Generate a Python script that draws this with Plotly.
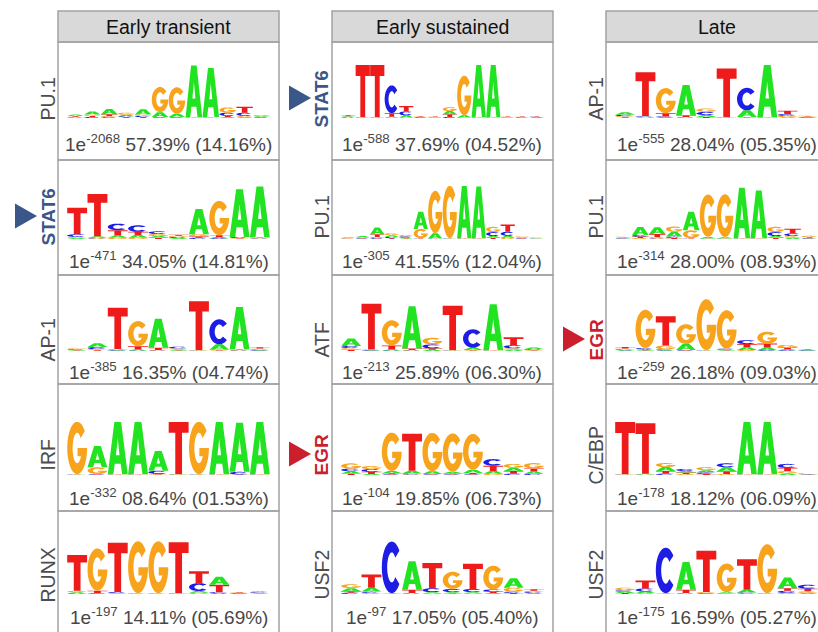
import math
import plotly.graph_objects as go

W, H = 818, 632

# ---------------------------------------------------------------- data
COLUMN_TITLES = ["Early transient", "Early sustained", "Late"]

FACTORS = [
    ["PU.1", "STAT6", "AP-1", "IRF", "RUNX"],
    ["STAT6", "PU.1", "ATF", "EGR", "USF2"],
    ["AP-1", "PU.1", "EGR", "C/EBP", "USF2"],
]

LOG10_P = [
    [-2068, -471, -385, -332, -197],
    [-588, -305, -213, -104, -97],
    [-555, -314, -259, -178, -175],
]
TARGET_PCT = [
    [57.39, 34.05, 16.35, 8.64, 14.11],
    [37.69, 41.55, 25.89, 19.85, 17.05],
    [28.04, 28.00, 26.18, 18.12, 16.59],
]
BACKGROUND_PCT = [
    [14.16, 14.81, 4.74, 1.53, 5.69],
    [4.52, 12.04, 6.30, 6.73, 5.40],
    [5.35, 8.93, 9.03, 6.09, 5.27],
]

HIGHLIGHT = {"STAT6": "#3b5689", "EGR": "#cc1f2e"}

# motif information content per position, bits for (A, C, G, T)
PU1_EARLY_TRANSIENT = [
    (0.05, 0.02, 0.03, 0.03), (0.12, 0.04, 0.05, 0.04), (0.20, 0.03, 0.04, 0.07),
    (0.05, 0.04, 0.08, 0.03), (0.20, 0.05, 0.05, 0.03), (0.18, 0.02, 0.95, 0.02),
    (0.12, 0.02, 1.00, 0.02), (1.95, 0.01, 0.01, 0.01), (1.85, 0.01, 0.02, 0.01),
    (0.04, 0.12, 0.20, 0.04), (0.04, 0.12, 0.04, 0.22), (0.03, 0.02, 0.04, 0.02),
]
STAT6_EARLY_TRANSIENT = [
    (0.04, 0.10, 0.04, 1.00), (0.05, 0.02, 0.03, 1.60), (0.08, 0.25, 0.05, 0.20),
    (0.10, 0.25, 0.05, 0.12), (0.06, 0.10, 0.08, 0.05), (0.04, 0.04, 0.04, 0.04),
    (0.95, 0.05, 0.08, 0.05), (0.05, 0.03, 1.30, 0.06), (1.80, 0.04, 0.02, 0.02),
    (1.92, 0.02, 0.02, 0.02),
]
AP1_EARLY_TRANSIENT = [
    (0.03, 0.03, 0.03, 0.02), (0.14, 0.08, 0.04, 0.03), (0.02, 0.03, 0.03, 1.55),
    (0.04, 0.02, 0.95, 0.12), (1.10, 0.02, 0.02, 0.08), (0.04, 0.06, 0.04, 0.02),
    (0.01, 0.01, 0.01, 1.85), (0.20, 0.95, 0.02, 0.03), (1.60, 0.02, 0.02, 0.02),
    (0.02, 0.03, 0.04, 0.05),
]
IRF_EARLY_TRANSIENT = [
    (0.01, 0.01, 1.98, 0.01), (0.80, 0.02, 0.25, 0.02), (1.98, 0.01, 0.01, 0.01),
    (1.98, 0.01, 0.01, 0.01), (0.75, 0.12, 0.02, 0.02), (0.01, 0.01, 0.01, 1.98),
    (0.01, 0.01, 1.98, 0.01), (1.98, 0.01, 0.01, 0.01), (1.85, 0.10, 0.01, 0.01),
    (1.98, 0.01, 0.01, 0.01),
]
RUNX_EARLY_TRANSIENT = [
    (0.05, 0.02, 0.05, 1.35), (0.02, 0.02, 1.60, 0.08), (0.02, 0.04, 0.02, 1.85),
    (0.01, 0.01, 1.96, 0.01), (0.01, 0.01, 1.96, 0.01), (0.01, 0.01, 0.01, 1.92),
    (0.06, 0.30, 0.05, 0.45), (0.30, 0.05, 0.02, 0.28), (0.02, 0.02, 0.02, 0.02),
    (0.02, 0.04, 0.02, 0.01),
]
STAT6_EARLY_SUSTAINED = [
    (0.03, 0.02, 0.02, 0.03), (0.01, 0.01, 0.01, 1.97), (0.01, 0.01, 0.01, 1.97),
    (0.03, 1.05, 0.02, 0.13), (0.08, 0.15, 0.02, 0.20), (0.02, 0.02, 0.02, 0.02),
    (0.02, 0.01, 0.02, 0.02), (0.12, 0.04, 0.15, 0.10), (0.08, 0.01, 1.50, 0.01),
    (1.97, 0.01, 0.01, 0.01), (1.97, 0.01, 0.01, 0.01), (0.02, 0.01, 0.02, 0.02),
    (0.01, 0.02, 0.02, 0.02), (0.02, 0.02, 0.01, 0.02),
]
PU1_EARLY_SUSTAINED = [
    (0.03, 0.01, 0.02, 0.01), (0.04, 0.02, 0.03, 0.02), (0.25, 0.03, 0.05, 0.10),
    (0.06, 0.05, 0.08, 0.03), (0.03, 0.05, 0.05, 0.02), (0.65, 0.01, 0.35, 0.02),
    (0.20, 0.01, 1.60, 0.01), (0.01, 0.01, 1.98, 0.01), (1.98, 0.01, 0.01, 0.01),
    (1.95, 0.01, 0.01, 0.01), (0.06, 0.15, 0.20, 0.05), (0.07, 0.15, 0.05, 0.28),
    (0.03, 0.02, 0.03, 0.02), (0.02, 0.01, 0.02, 0.01),
]
ATF_EARLY_SUSTAINED = [
    (0.28, 0.08, 0.06, 0.05), (0.02, 0.02, 0.02, 1.72), (0.04, 0.02, 0.95, 0.15),
    (1.60, 0.02, 0.02, 0.05), (0.05, 0.15, 0.25, 0.05), (0.01, 0.01, 0.01, 1.68),
    (0.08, 0.70, 0.02, 0.02), (1.73, 0.01, 0.01, 0.01), (0.05, 0.12, 0.05, 0.30),
    (0.06, 0.03, 0.02, 0.02),
]
EGR_EARLY_SUSTAINED = [
    (0.08, 0.10, 0.20, 0.06), (0.04, 0.10, 0.12, 0.08), (0.08, 0.02, 1.45, 0.05),
    (0.10, 0.04, 0.02, 1.40), (0.10, 0.02, 1.45, 0.02), (0.06, 0.02, 1.45, 0.04),
    (0.12, 0.02, 1.35, 0.06), (0.10, 0.25, 0.05, 0.20), (0.12, 0.05, 0.15, 0.10),
    (0.08, 0.05, 0.20, 0.12),
]
USF2_EARLY_SUSTAINED = [
    (0.12, 0.05, 0.15, 0.05), (0.15, 0.05, 0.04, 0.50), (0.01, 1.95, 0.01, 0.01),
    (1.08, 0.02, 0.02, 0.12), (0.05, 0.15, 0.02, 0.95), (0.05, 0.12, 0.65, 0.02),
    (0.05, 0.12, 0.02, 0.95), (0.04, 0.08, 0.90, 0.05), (0.35, 0.05, 0.15, 0.04),
    (0.03, 0.04, 0.05, 0.06),
]
AP1_LATE = [
    (0.10, 0.05, 0.04, 0.03), (0.03, 0.03, 0.02, 1.65), (0.02, 0.04, 0.95, 0.12),
    (1.15, 0.02, 0.02, 0.06), (0.07, 0.12, 0.13, 0.04), (0.01, 0.01, 0.01, 1.84),
    (0.25, 0.85, 0.02, 0.02), (1.97, 0.01, 0.01, 0.01), (0.03, 0.07, 0.05, 0.12),
    (0.02, 0.02, 0.03, 0.02),
]
PU1_LATE = [
    (0.03, 0.02, 0.03, 0.01), (0.30, 0.06, 0.04, 0.05), (0.25, 0.02, 0.05, 0.12),
    (0.18, 0.05, 0.20, 0.04), (0.70, 0.01, 0.30, 0.02), (0.06, 0.01, 1.60, 0.01),
    (0.05, 0.01, 1.62, 0.01), (1.90, 0.01, 0.01, 0.01), (1.80, 0.01, 0.01, 0.01),
    (0.06, 0.15, 0.20, 0.05), (0.05, 0.10, 0.06, 0.18), (0.01, 0.02, 0.05, 0.04),
]
EGR_LATE = [
    (0.03, 0.03, 0.03, 0.06), (0.04, 0.05, 1.45, 0.02), (0.02, 0.04, 0.15, 1.10),
    (0.22, 0.02, 0.75, 0.02), (0.01, 0.01, 1.93, 0.01), (0.03, 0.04, 1.45, 0.02),
    (0.10, 0.15, 0.04, 0.12), (0.10, 0.03, 0.45, 0.15), (0.04, 0.03, 0.10, 0.06),
    (0.02, 0.02, 0.02, 0.02),
]
CEBP_LATE = [
    (0.01, 0.01, 0.01, 1.97), (0.03, 0.01, 0.01, 1.90), (0.15, 0.05, 0.15, 0.10),
    (0.06, 0.08, 0.04, 0.05), (0.08, 0.06, 0.12, 0.04), (0.15, 0.15, 0.04, 0.10),
    (1.97, 0.01, 0.01, 0.01), (1.97, 0.01, 0.01, 0.01), (0.05, 0.15, 0.10, 0.12),
    (0.01, 0.02, 0.01, 0.01),
]
USF2_LATE = [
    (0.05, 0.05, 0.10, 0.04), (0.05, 0.12, 0.04, 0.30), (0.01, 1.72, 0.01, 0.01),
    (1.05, 0.02, 0.02, 0.12), (0.02, 0.02, 0.04, 1.55), (0.05, 0.01, 1.08, 0.01),
    (0.10, 0.04, 0.02, 1.15), (0.01, 0.01, 1.85, 0.01), (0.40, 0.08, 0.04, 0.10),
    (0.04, 0.15, 0.06, 0.10),
]

MOTIFS = [
    [PU1_EARLY_TRANSIENT, STAT6_EARLY_TRANSIENT, AP1_EARLY_TRANSIENT,
     IRF_EARLY_TRANSIENT, RUNX_EARLY_TRANSIENT],
    [STAT6_EARLY_SUSTAINED, PU1_EARLY_SUSTAINED, ATF_EARLY_SUSTAINED,
     EGR_EARLY_SUSTAINED, USF2_EARLY_SUSTAINED],
    [AP1_LATE, PU1_LATE, EGR_LATE, CEBP_LATE, USF2_LATE],
]

BASES = "ACGT"
BASE_COLORS = {"A": "#22e322", "C": "#1d1de6", "G": "#f8a31c", "T": "#ef1b1b"}

# ---------------------------------------------------------------- geometry (pixels)
COL_LEFT = [58, 332, 606]
COL_WIDTH = 221
HEADER_TOP, HEADER_BOTTOM = 11, 42
ROW_EDGES = [42, 160, 275, 384, 511, 650]
BASELINE = [118, 239, 351, 475, 594]
STAT_Y = [143, 260, 371, 497, 616]
LABEL_Y = [99, 217, 340, 455, 575]
LOGO_INSET = (9, 212)      # logo extent inside a column
LOGO_HEIGHT = 53           # pixel height of 2 bits

TEXT_FONT = "Liberation Sans, Arial, Helvetica, sans-serif"


def px(x):
    return x / W


def py(y):
    return 1 - y / H


# ---------------------------------------------------------------- glyph outlines (unit box)
def arc(a0, a1, rx, ry, n=28):
    pts = []
    for i in range(n + 1):
        t = math.radians(a0 + (a1 - a0) * i / n)
        pts.append((0.5 + rx * math.cos(t), 0.5 + ry * math.sin(t)))
    return pts


GLYPHS = {
    "A": [
        [(0, 0), (0.33, 1), (0.67, 1), (1, 0), (0.72, 0), (0.65, 0.2),
         (0.35, 0.2), (0.28, 0)],
        [(0.41, 0.36), (0.59, 0.36), (0.5, 0.68)],
    ],
    "T": [
        [(0, 1), (1, 1), (1, 0.79), (0.67, 0.79), (0.67, 0), (0.33, 0),
         (0.33, 0.79), (0, 0.79)],
    ],
    "C": [arc(40, 320, 0.5, 0.5) + arc(320, 40, 0.23, 0.29)],
    "G": [arc(40, 360, 0.5, 0.5)
          + [(0.52, 0.5), (0.52, 0.34), (0.72, 0.34)]
          + arc(330, 40, 0.23, 0.29)],
}


def glyph_path(base, x0, x1, y0, y1):
    parts = []
    for contour in GLYPHS[base]:
        pts = [f"{x0 + u * (x1 - x0):.4f},{y0 + v * (y1 - y0):.4f}" for u, v in contour]
        parts.append("M" + " L".join(pts) + " Z")
    return " ".join(parts)


# ---------------------------------------------------------------- figure
fig = go.Figure()
layout = dict(
    width=W, height=H, margin=dict(l=0, r=0, t=0, b=0),
    paper_bgcolor="white", plot_bgcolor="rgba(0,0,0,0)",
    showlegend=False,
)
shapes = []
annotations = []

BORDER = "#a3a3a3"

for c, title in enumerate(COLUMN_TITLES):
    left = COL_LEFT[c]
    right = left + COL_WIDTH
    # header box
    shapes.append(dict(type="rect", xref="paper", yref="paper",
                       x0=px(left), x1=px(right), y0=py(HEADER_BOTTOM), y1=py(HEADER_TOP),
                       fillcolor="#d9d9d9", line=dict(color=BORDER, width=1.5), layer="below"))
    annotations.append(dict(text=title, xref="paper", yref="paper",
                            x=px((left + right) / 2), y=py((HEADER_TOP + HEADER_BOTTOM) / 2 + 0.5),
                            xanchor="center", yanchor="middle", showarrow=False,
                            font=dict(family=TEXT_FONT, size=19.5, color="#111111")))
    for r in range(5):
        k = c * 5 + r + 1
        shapes.append(dict(type="rect", xref="paper", yref="paper",
                           x0=px(left), x1=px(right), y0=py(ROW_EDGES[r + 1]), y1=py(ROW_EDGES[r]),
                           fillcolor="rgba(0,0,0,0)", line=dict(color=BORDER, width=1.5),
                           layer="below"))

        motif = MOTIFS[c][r]
        n = len(motif)
        lx0, lx1 = left + LOGO_INSET[0], left + LOGO_INSET[1]
        vis_x1 = min(lx1, W)
        xname = "x" if k == 1 else f"x{k}"
        yname = "y" if k == 1 else f"y{k}"
        axis_common = dict(visible=False, showgrid=False, zeroline=False, fixedrange=True)
        layout["xaxis" if k == 1 else f"xaxis{k}"] = dict(
            domain=[px(lx0), px(vis_x1)], range=[0, n * (vis_x1 - lx0) / (lx1 - lx0)],
            anchor=yname, **axis_common)
        layout["yaxis" if k == 1 else f"yaxis{k}"] = dict(
            domain=[py(BASELINE[r]), py(BASELINE[r] - LOGO_HEIGHT)], range=[0, 2],
            anchor=xname, **axis_common)
        fig.add_trace(go.Scatter(x=[], y=[], xaxis=xname, yaxis=yname, hoverinfo="skip"))

        # stacked letters: smallest at the bottom, tallest on top
        for i, heights in enumerate(motif):
            order = sorted(zip(BASES, heights), key=lambda t: t[1])
            y = 0.0
            for base, h in order:
                shapes.append(dict(type="path", xref=xname, yref=yname,
                                   path=glyph_path(base, i + 0.01, i + 0.99, y, y + h),
                                   fillcolor=BASE_COLORS[base], line=dict(width=0),
                                   layer="above"))
                y += h

        # statistics line
        stat = (f"1e<sup>{LOG10_P[c][r]}</sup> {TARGET_PCT[c][r]:05.2f}% "
                f"({BACKGROUND_PCT[c][r]:05.2f}%)")
        annotations.append(dict(text=stat, xref="paper", yref="paper",
                                x=px((left + right) / 2), y=py(STAT_Y[r]),
                                xanchor="center", yanchor="middle", showarrow=False,
                                font=dict(family=TEXT_FONT, size=19, color="#474747")))

        # factor label, highlighted factors get a marker triangle
        name = FACTORS[c][r]
        label_x = left - 10.5
        if name in HIGHLIGHT:
            color = HIGHLIGHT[name]
            annotations.append(dict(text=f"<b>{name}</b>", xref="paper", yref="paper",
                                    x=px(label_x), y=py(LABEL_Y[r]), textangle=-90,
                                    xanchor="center", yanchor="middle", showarrow=False,
                                    font=dict(family=TEXT_FONT, size=19, color=color)))
            tip = label_x - 10.5
            ty = LABEL_Y[r] - 1
            shapes.append(dict(type="path", xref="paper", yref="paper",
                               path=(f"M{px(tip - 22):.5f},{py(ty - 12.5):.5f} "
                                     f"L{px(tip):.5f},{py(ty):.5f} "
                                     f"L{px(tip - 22):.5f},{py(ty + 12.5):.5f} Z"),
                               fillcolor=color, line=dict(width=0)))
        else:
            annotations.append(dict(text=name, xref="paper", yref="paper",
                                    x=px(label_x), y=py(LABEL_Y[r]), textangle=-90,
                                    xanchor="center", yanchor="middle", showarrow=False,
                                    font=dict(family=TEXT_FONT, size=19.5, color="#4d4d4d")))

layout["shapes"] = shapes
layout["annotations"] = annotations
fig.update_layout(**layout)
fig.write_html("out.html")
